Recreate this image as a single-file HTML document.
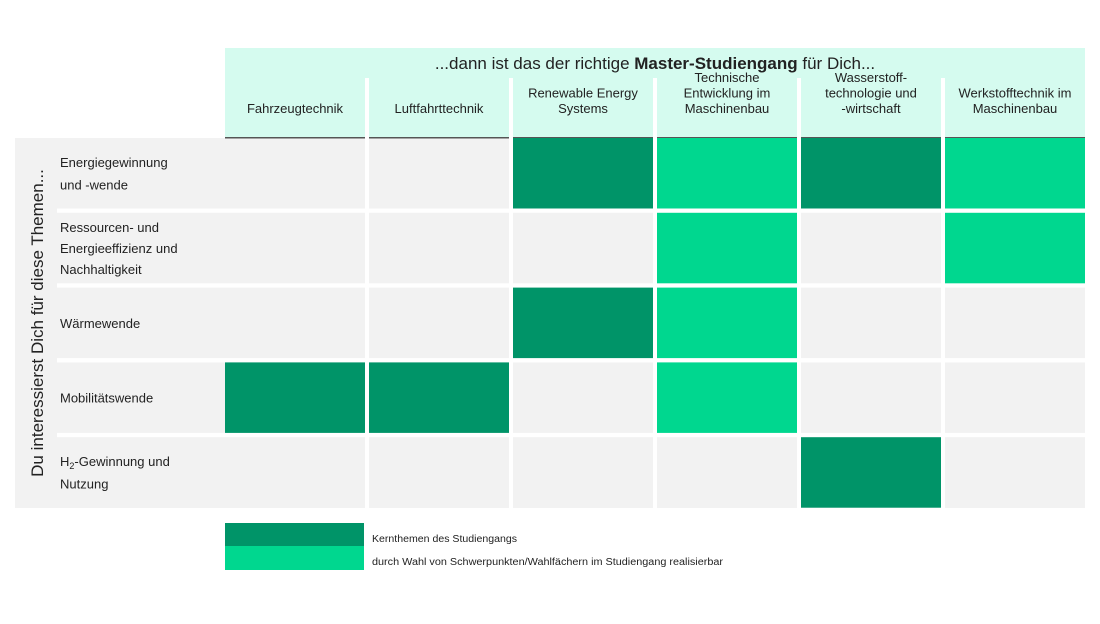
<!DOCTYPE html>
<html><head><meta charset="utf-8"><style>
body{margin:0;background:#fff;font-family:"Liberation Sans",sans-serif;}
svg text{font-family:"Liberation Sans",sans-serif;fill:#222;}
</style></head><body>
<svg id="c" width="1100" height="619" xmlns="http://www.w3.org/2000/svg">
<rect x="0" y="0" width="1100" height="619" fill="#fff"/>
<rect x="225" y="48" width="860" height="90" fill="#d5fbef"/>
<text x="655" y="69" font-size="17" text-anchor="middle">...dann ist das der richtige <tspan font-weight="bold">Master-Studiengang</tspan> für Dich...</text>
<rect x="15" y="138" width="1070" height="370" fill="#f2f2f2"/>
<text transform="translate(43,323) rotate(-90)" font-size="17" text-anchor="middle">Du interessierst Dich für diese Themen...</text>
<g id="g"></g>
<rect x="225" y="523" width="139" height="23" fill="#009468"/>
<rect x="225" y="546" width="139" height="24" fill="#00d78f"/>
<text x="372" y="542" font-size="10" textLength="145" lengthAdjust="spacingAndGlyphs">Kernthemen des Studiengangs</text>
<text x="372" y="565" font-size="10" textLength="351" lengthAdjust="spacingAndGlyphs">durch Wahl von Schwerpunkten/Wahlfächern im Studiengang realisierbar</text>
</svg>
<script>
const columns=[["Fahrzeugtechnik"],["Luftfahrttechnik"],["Renewable Energy","Systems"],["Technische","Entwicklung im","Maschinenbau"],["Wasserstoff-","technologie und","-wirtschaft"],["Werkstofftechnik im","Maschinenbau"]];
const rows=[["Energiegewinnung","und -wende"],["Ressourcen- und","Energieeffizienz und","Nachhaltigkeit"],["Wärmewende"],["Mobilitätswende"],["H2-Gewinnung und","Nutzung"]];
const row1=[0,0,1,2,1,2];
const row2=[0,0,0,2,0,2];
const row3=[0,0,1,2,0,0];
const row4=[1,1,0,2,0,0];
const row5=[0,0,0,0,1,0];
const matrix=[row1,row2,row3,row4,row5];
const NS="http://www.w3.org/2000/svg";
const g=document.getElementById('g');
const colX=i=>225+i*144, colW=140, rowY=j=>138+j*74.8, rowH=70.5;
function mk(t,a){const e=document.createElementNS(NS,t);for(const k in a)e.setAttribute(k,a[k]);g.appendChild(e);return e;}
// header separators and labels
columns.forEach((c,i)=>{
  if(i>0){const s=mk('rect',{x:colX(i)-4,y:78,width:4,height:60,fill:'#fff'});
  
  }
  const t=mk('text',{x:colX(i)+colW/2,'font-size':13,'text-anchor':'middle'});
  
  
  const y0=113-(c.length-1)*15.5;
  c.forEach((l,k)=>{const ts=document.createElementNS(NS,'tspan');ts.setAttribute('x',colX(i)+colW/2);ts.setAttribute('y',y0+k*31/2*2/2*2-k*15.5);ts.textContent=l;t.appendChild(ts);});
  const ln=mk('rect',{x:colX(i),y:137,width:colW,height:1.5,fill:'#555'});
  
  
});
// row gaps
for(let j=1;j<rows.length;j++){const r=mk('rect',{x:57,y:rowY(j)-4.3,width:1028,height:4.3,fill:'#fff'});

}
// column gaps (from column 2 onward)
for(let i=1;i<columns.length;i++){const r=mk('rect',{x:colX(i)-4,y:138,width:4,height:370,fill:'#fff'});

}
// cells
matrix.forEach((row,j)=>row.forEach((v,i)=>{if(!v)return;
  const r=mk('rect',{x:colX(i),y:rowY(j),width:colW,height:rowH,fill:v===1?'#009468':'#00d78f'});
  
  }));
// row labels
rows.forEach((r,j)=>{
  const t=mk('text',{x:60,'font-size':13});
  
  
  const lh=r.length===3?21:r.length===2?22.5:0;
  const cy=rowY(j)+rowH/2+5-(r.length-1)*lh/2;
  r.forEach((l,k)=>{const ts=document.createElementNS(NS,'tspan');ts.setAttribute('x',60);ts.setAttribute('y',cy+k*lh);
    if(l.startsWith('H2')){ts.textContent='H';const s=document.createElementNS(NS,'tspan');s.setAttribute('font-size','9');s.setAttribute('dy','3');s.textContent='2';ts.appendChild(s);const s2=document.createElementNS(NS,'tspan');s2.setAttribute('dy','-3');s2.textContent=l.slice(2);ts.appendChild(s2);}
    else ts.textContent=l;t.appendChild(ts);});
});
</script>
</body></html>
